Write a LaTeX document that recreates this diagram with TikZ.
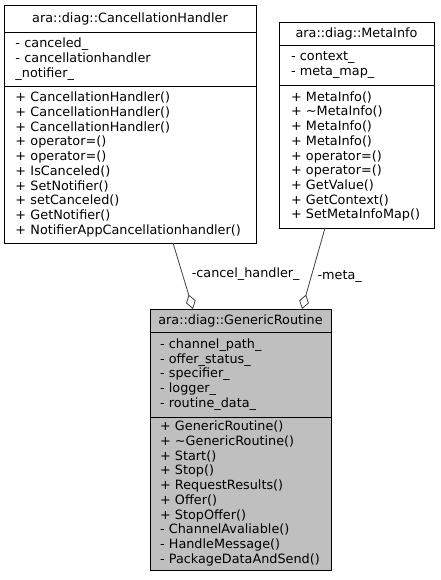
\documentclass[tikz,border=0pt]{standalone}
\usepackage{fontspec}
\setmainfont{DejaVu Sans}
\usetikzlibrary{positioning,arrows.meta}

\begin{document}
\begin{tikzpicture}[line cap=round,x=1pt,y=-1pt,
  classpart/.style={draw=black,line width=0.8pt,outer sep=0pt,inner xsep=0pt,inner ysep=0pt,
    font=\fontsize{12.8}{14.7}\selectfont,align=left},
  classtitle/.style={classpart,align=center},
  aggr/.style={{Diamond[open,length=15pt,width=10pt]}-,draw=black!75,line width=0.8pt},
  rolelabel/.style={font=\fontsize{12.8}{14.7}\selectfont,inner sep=3pt}]
\useasboundingbox (0,0) rectangle (440,580);
% cancellation handler
\node[classtitle,minimum width=252pt,minimum height=27pt,anchor=north west] (cancel-title) at (4,5) {ara::diag::CancellationHandler};
\node[classpart,minimum width=252pt,minimum height=54pt,text width=229pt,below=0pt of cancel-title] (cancel-attr)
  {- canceled\_\\- cancellationhandler\\\_notifier\_};
\node[classpart,minimum width=252pt,minimum height=157pt,text width=229pt,below=0pt of cancel-attr] (cancel-ops)
  {+ CancellationHandler()\\+ CancellationHandler()\\+ CancellationHandler()\\+ operator=()\\+ operator=()\\
   + IsCanceled()\\+ SetNotifier()\\+ setCanceled()\\+ GetNotifier()\\+ NotifierAppCancellationhandler()};
% meta info
\node[classtitle,minimum width=155pt,minimum height=23pt,anchor=north west] (meta-title) at (279,22) {ara::diag::MetaInfo};
\node[classpart,minimum width=155pt,minimum height=40pt,text width=131pt,below=0pt of meta-title] (meta-attr)
  {- context\_\\- meta\_map\_};
\node[classpart,minimum width=155pt,minimum height=143pt,text width=131pt,below=0pt of meta-attr] (meta-ops)
  {+ MetaInfo()\\+ \textasciitilde MetaInfo()\\+ MetaInfo()\\+ MetaInfo()\\+ operator=()\\+ operator=()\\
   + GetValue()\\+ GetContext()\\+ SetMetaInfoMap()};
% generic routine
\node[classtitle,fill=black!25,minimum width=181pt,minimum height=23pt,anchor=north west] (gen-title) at (150,309) {ara::diag::GenericRoutine};
\node[classpart,fill=black!25,minimum width=181pt,minimum height=85pt,text width=161pt,below=0pt of gen-title] (gen-attr)
  {- channel\_path\_\\- offer\_status\_\\- specifier\_\\- logger\_\\- routine\_data\_};
\node[classpart,fill=black!25,minimum width=181pt,minimum height=153pt,text width=161pt,below=0pt of gen-attr] (gen-ops)
  {+ GenericRoutine()\\+ \textasciitilde GenericRoutine()\\+ Start()\\+ Stop()\\+ RequestResults()\\+ Offer()\\
   + StopOffer()\\- ChannelAvaliable()\\- HandleMessage()\\- PackageDataAndSend()};
% aggregations
\draw[aggr] ([xshift=43pt]gen-title.north west) -- node[rolelabel,pos=0.53,right,xshift=6pt] (cancel-role) {-cancel\_handler\_} ([xshift=169pt]cancel-ops.south west);
\draw[aggr] ([xshift=152pt]gen-title.north west) -- node[rolelabel,pos=0.4,right,xshift=3pt] (meta-role) {-meta\_} ([xshift=46pt]meta-ops.south west);
\end{tikzpicture}
\end{document}
